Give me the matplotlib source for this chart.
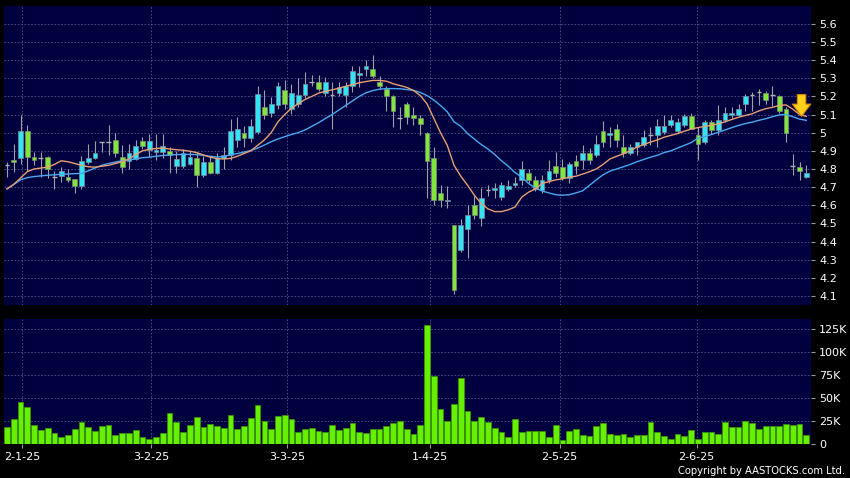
import numpy as np
import matplotlib
matplotlib.use('Agg')
import matplotlib.pyplot as plt
from matplotlib.ticker import FixedLocator, FuncFormatter

# daily OHLC
opens = [4.82, 4.85, 4.862, 5.01, 4.865, 4.862, 4.865, 4.755, 4.76, 4.755,
         4.743, 4.704, 4.838, 4.862, 4.948, 4.948, 4.961, 4.865, 4.843, 4.857,
         4.952, 4.906, 4.893, 4.893, 4.90, 4.818, 4.818, 4.829, 4.862, 4.768,
         4.84, 4.78, 4.862, 4.879, 4.961, 5.0, 4.972, 5.003, 5.141, 5.11,
         5.15, 5.233, 5.132, 5.16, 5.209, 5.282, 5.278, 5.218, 5.209, 5.22,
         5.205, 5.255, 5.319, 5.352, 5.352, 5.278, 5.242, 5.20, 5.08, 5.16,
         5.099, 5.08, 4.998, 4.862, 4.669, 4.621, 4.489, 4.351, 4.471, 4.60,
         4.53, 4.682, 4.686, 4.645, 4.69, 4.71, 4.737, 4.777, 4.741, 4.686,
         4.741, 4.814, 4.81, 4.752, 4.842, 4.851, 4.89, 4.879, 5.009, 4.985,
         5.022, 4.92, 4.89, 4.92, 4.934, 4.989, 4.985, 5.003, 5.04, 5.009,
         5.045, 5.09, 4.985, 4.948, 5.058, 5.012, 5.071, 5.099, 5.099, 5.16,
         5.205, 5.223, 5.218, 5.205, 5.201, 5.132, 4.816, 4.81, 4.755]
highs = [4.84, 4.94, 5.095, 5.04, 4.893, 4.893, 4.87, 4.79, 4.81, 4.80,
         4.745, 4.87, 4.94, 4.953, 4.95, 5.04, 5.0, 4.93, 4.94, 4.957,
         4.976, 4.994, 4.99, 4.99, 4.92, 4.898, 4.912, 4.897, 4.893, 4.873,
         4.873, 4.888, 4.92, 5.073, 5.086, 5.035, 5.073, 5.255, 5.233, 5.196,
         5.28, 5.29, 5.27, 5.30, 5.333, 5.32, 5.32, 5.306, 5.278, 5.28,
         5.278, 5.37, 5.37, 5.398, 5.43, 5.315, 5.26, 5.21, 5.14, 5.17,
         5.14, 5.095, 5.003, 4.92, 4.71, 4.706, 4.489, 4.522, 4.60, 4.649,
         4.697, 4.71, 4.72, 4.73, 4.74, 4.757, 4.843, 4.80, 4.76, 4.765,
         4.847, 4.893, 4.857, 4.84, 4.875, 4.93, 4.917, 4.985, 5.062, 5.031,
         5.049, 4.985, 4.939, 4.95, 5.012, 5.031, 5.077, 5.095, 5.10, 5.082,
         5.104, 5.11, 5.03, 5.07, 5.07, 5.15, 5.14, 5.14, 5.16, 5.215,
         5.223, 5.242, 5.23, 5.255, 5.21, 5.14, 4.88, 4.84, 4.82]
lows = [4.755, 4.785, 4.83, 4.79, 4.82, 4.755, 4.75, 4.69, 4.73, 4.73,
        4.67, 4.69, 4.83, 4.855, 4.893, 4.875, 4.865, 4.777, 4.80, 4.847,
        4.912, 4.865, 4.847, 4.862, 4.777, 4.777, 4.807, 4.82, 4.70, 4.755,
        4.774, 4.774, 4.80, 4.847, 4.92, 4.92, 4.948, 4.99, 5.077, 5.086,
        5.13, 5.13, 5.104, 5.14, 5.19, 5.255, 5.23, 5.20, 5.022, 5.20,
        5.14, 5.223, 5.25, 5.31, 5.30, 5.242, 5.12, 5.03, 5.022, 5.05,
        5.04, 4.985, 4.64, 4.60, 4.59, 4.585, 4.108, 4.34, 4.309, 4.526,
        4.484, 4.65, 4.64, 4.63, 4.68, 4.70, 4.71, 4.72, 4.68, 4.667,
        4.72, 4.755, 4.737, 4.72, 4.774, 4.80, 4.829, 4.865, 4.92, 4.92,
        4.92, 4.865, 4.875, 4.875, 4.92, 4.93, 4.92, 4.99, 5.03, 5.0,
        5.03, 5.02, 4.847, 4.94, 4.99, 4.985, 5.06, 5.08, 5.09, 5.12,
        5.122, 5.15, 5.16, 5.145, 5.11, 4.948, 4.765, 4.737, 4.75]
closes = [4.82, 4.84, 5.01, 4.865, 4.847, 4.862, 4.80, 4.755, 4.79, 4.74,
          4.704, 4.842, 4.862, 4.89, 4.948, 4.948, 4.888, 4.81, 4.89, 4.926,
          4.926, 4.952, 4.906, 4.926, 4.879, 4.854, 4.89, 4.865, 4.768, 4.84,
          4.78, 4.862, 4.879, 5.011, 5.022, 4.97, 5.038, 5.211, 5.099, 5.159,
          5.255, 5.16, 5.218, 5.209, 5.27, 5.282, 5.242, 5.278, 5.209, 5.251,
          5.256, 5.339, 5.328, 5.365, 5.311, 5.256, 5.20, 5.119, 5.08, 5.086,
          5.082, 5.049, 4.842, 4.631, 4.631, 4.631, 4.131, 4.489, 4.548, 4.548,
          4.642, 4.682, 4.697, 4.71, 4.704, 4.72, 4.80, 4.737, 4.691, 4.741,
          4.788, 4.777, 4.752, 4.825, 4.814, 4.89, 4.851, 4.94, 4.948, 5.0,
          4.961, 4.89, 4.92, 4.948, 4.976, 4.989, 5.035, 5.036, 5.071, 5.058,
          5.09, 5.022, 4.939, 5.058, 5.012, 5.071, 5.11, 5.11, 5.132, 5.20,
          5.205, 5.223, 5.181, 5.205, 5.122, 4.998, 4.816, 4.788, 4.779]

# volume in thousands
volume_k = [18.2, 26.6, 45.5, 40, 20, 14.6, 16.7, 12, 6.9, 9.8,
            15.3, 23.7, 17.5, 13.5, 19.3, 19.7, 9.8, 11.6, 11.6, 14.9,
            7.3, 4.7, 6.9, 12, 33.5, 23.7, 12.7, 20.7, 28.8, 17.5,
            21.8, 19.3, 16.7, 31.3, 15.3, 19.3, 28, 42.6, 25.1, 16,
            29.5, 30.9, 26.6, 12.4, 15.7, 16.7, 14.2, 12.4, 20.4, 14.9,
            16.4, 22.2, 12.4, 11.3, 15.7, 15.7, 19.3, 22.9, 25.1, 15.3,
            10.2, 20.4, 129, 74, 38, 25, 43, 72, 35, 25,
            29, 24, 16.7, 12.4, 6.9, 27, 12.4, 14.2, 13.5, 13.5,
            6.9, 20, 3.6, 14.2, 15.7, 9.1, 8, 19.3, 22.6, 10.9,
            9.5, 10.6, 7.3, 9.8, 9.8, 23.3, 13.1, 8, 4.7, 10.9,
            8.7, 14.6, 4.4, 12.4, 12.7, 10.2, 24, 18.2, 17.5, 24.4,
            22.2, 15.3, 19.3, 19.3, 19.3, 21, 20.4, 21.8, 9.1]

# moving averages as drawn (orange = short, blue = long)
ma_short = [4.69, 4.715, 4.75, 4.785, 4.80, 4.805, 4.81, 4.825, 4.845, 4.84,
            4.83, 4.82, 4.812, 4.81, 4.815, 4.82, 4.83, 4.84, 4.855, 4.88,
            4.90, 4.908, 4.913, 4.915, 4.91, 4.906, 4.903, 4.898, 4.89, 4.877,
            4.865, 4.857, 4.855, 4.858, 4.87, 4.885, 4.90, 4.93, 4.96, 5.00,
            5.06, 5.10, 5.135, 5.16, 5.183, 5.20, 5.218, 5.228, 5.236, 5.245,
            5.256, 5.265, 5.275, 5.282, 5.288, 5.288, 5.284, 5.27, 5.26, 5.25,
            5.233, 5.205, 5.16, 5.08, 5.00, 4.93, 4.82, 4.76, 4.71, 4.655,
            4.61, 4.58, 4.565, 4.565, 4.575, 4.59, 4.645, 4.672, 4.69, 4.72,
            4.73, 4.74, 4.745, 4.755, 4.76, 4.772, 4.785, 4.80, 4.825, 4.855,
            4.87, 4.884, 4.90, 4.92, 4.935, 4.948, 4.96, 4.975, 4.985, 4.995,
            5.008, 5.02, 5.028, 5.035, 5.04, 5.049, 5.06, 5.073, 5.085, 5.095,
            5.104, 5.12, 5.132, 5.14, 5.15, 5.153, 5.13, 5.10, 5.09]
ma_long = [4.69, 4.715, 4.74, 4.752, 4.758, 4.762, 4.765, 4.768, 4.77, 4.772,
           4.774, 4.776, 4.79, 4.805, 4.82, 4.83, 4.838, 4.845, 4.85, 4.856,
           4.862, 4.865, 4.87, 4.874, 4.877, 4.879, 4.88, 4.88, 4.879, 4.875,
           4.87, 4.866, 4.868, 4.878, 4.885, 4.893, 4.902, 4.915, 4.932, 4.95,
           4.965, 4.978, 4.99, 5.00, 5.015, 5.035, 5.055, 5.078, 5.10, 5.125,
           5.15, 5.175, 5.20, 5.22, 5.232, 5.24, 5.243, 5.243, 5.242, 5.238,
           5.233, 5.222, 5.205, 5.18, 5.15, 5.115, 5.06, 5.035, 4.995, 4.965,
           4.935, 4.91, 4.88, 4.845, 4.815, 4.78, 4.755, 4.72, 4.695, 4.678,
           4.668, 4.658, 4.655, 4.658, 4.668, 4.68, 4.71, 4.74, 4.768, 4.788,
           4.80, 4.812, 4.825, 4.84, 4.852, 4.865, 4.875, 4.89, 4.90, 4.915,
           4.93, 4.945, 4.97, 4.978, 4.99, 5.002, 5.015, 5.028, 5.04, 5.05,
           5.058, 5.068, 5.077, 5.088, 5.098, 5.10, 5.088, 5.075, 5.068]

tick_pos = [2.2, 21.3, 41.4, 62.5, 81.6, 101.8]
tick_labels = ['2-1-25', '3-2-25', '3-3-25', '1-4-25', '2-5-25', '2-6-25']
price_ticks = [4.1, 4.2, 4.3, 4.4, 4.5, 4.6, 4.7, 4.8, 4.9, 5.0,
               5.1, 5.2, 5.3, 5.4, 5.5, 5.6]
vol_ticks = [0, 25000, 50000, 75000, 100000, 125000]

# marker arrow (bar index, top price, tip price)
arrow_idx = 117.3
arrow_top = 5.21
arrow_tip = 5.09

o = np.array(opens)
h = np.array(highs)
l = np.array(lows)
c = np.array(closes)
vol = np.array(volume_k) * 1000
x = np.arange(len(o))

bg = '#00003f'
grid_col = '#55558c'
up_col = '#33e4f5'
down_col = '#80e63a'

fig = plt.figure(figsize=(8.5, 4.78), dpi=100, facecolor='black')
ax = fig.add_axes([4 / 850, (478 - 305) / 478, 806.7 / 850, (305 - 5.7) / 478])
axv = fig.add_axes([4 / 850, (478 - 443.5) / 478, 806.7 / 850, (443.5 - 319) / 478],
                   sharex=ax)

for a in (ax, axv):
    a.set_facecolor(bg)
    for s in a.spines.values():
        s.set_visible(False)
    a.yaxis.tick_right()
    a.tick_params(axis='y', colors='#9a9a9a', labelcolor='white', length=3,
                  width=0.8, pad=3, labelsize=8)
    a.xaxis.set_major_locator(FixedLocator(tick_pos))
    a.grid(True, color=grid_col, linestyle=(0, (2, 2)), linewidth=0.6)
    a.set_axisbelow(True)

# candles
up = c > o
down = c < o
flat = c == o
ax.vlines(x, l, h, color='#a0a0a0', linewidth=0.8, zorder=2)
w = 0.7
ax.bar(x[up], (c - o)[up], bottom=o[up], width=w, color=up_col,
       edgecolor='#7a8a9a', linewidth=0.5, zorder=3)
ax.bar(x[down], (o - c)[down], bottom=c[down], width=w, color=down_col,
       edgecolor='#7a8a7a', linewidth=0.5, zorder=3)
ax.hlines(o[flat], x[flat] - w / 2, x[flat] + w / 2, color='#b0b0b0',
          linewidth=1.0, zorder=3)

ax.plot(x, ma_long, color='#4aa8f0', linewidth=1.0, zorder=4)
ax.plot(x, ma_short, color='#e8a070', linewidth=1.0, zorder=4)

ax.annotate('', xy=(arrow_idx, arrow_tip), xytext=(arrow_idx, arrow_top),
            arrowprops=dict(arrowstyle='simple,head_length=0.8,head_width=1.2,tail_width=0.55',
                            fc='#ffd21a', ec='#d88a00', lw=0.8,
                            shrinkA=0, shrinkB=0, mutation_scale=11),
            zorder=5)

ax.set_ylim(4.05, 5.70)
ax.set_xlim(-0.44, 118.65)
ax.yaxis.set_major_locator(FixedLocator(price_ticks))
ax.yaxis.set_major_formatter(FuncFormatter(lambda v, p: f'{v:g}'))
ax.tick_params(axis='x', length=0, labelbottom=False)

# volume
axv.bar(x, vol, width=0.85, color='#66f000', edgecolor='#3a9a00',
        linewidth=0.5, zorder=3)
axv.set_ylim(0, 136000)
axv.yaxis.set_major_locator(FixedLocator(vol_ticks))
axv.yaxis.set_major_formatter(
    FuncFormatter(lambda v, p: '0' if v == 0 else f'{int(v / 1000)}K'))
axv.set_xticklabels(tick_labels)
axv.tick_params(axis='x', colors='#9a9a9a', labelcolor='white', length=3,
                width=0.8, pad=3, labelsize=8)

fig.text(0.994, 1 - 471.5 / 478, 'Copyright by AASTOCKS.com Ltd.',
         color='white', fontsize=7.2, ha='right', va='center')

fig.savefig('out.png', dpi=100, facecolor='black')
